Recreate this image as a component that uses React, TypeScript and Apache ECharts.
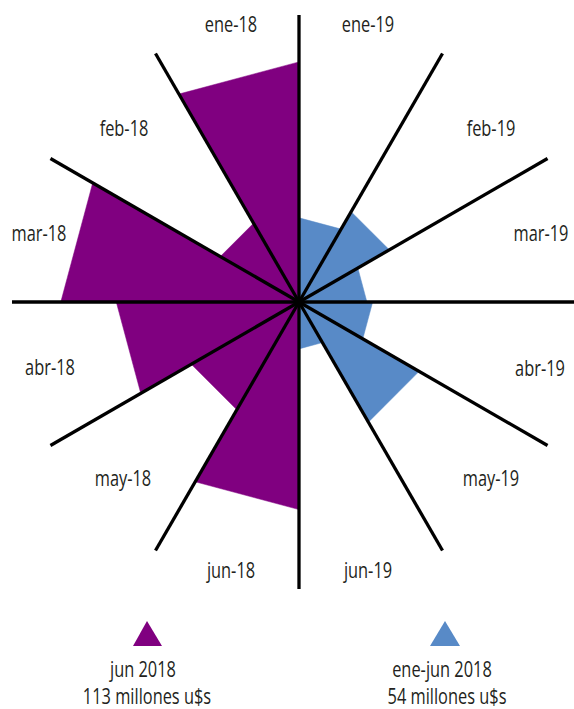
import React, { useEffect, useRef } from "react";
import * as echarts from "echarts";

// ---- data ----
const months18 = ["ene-18", "feb-18", "mar-18", "abr-18", "may-18", "jun-18"];
const months19 = ["ene-19", "feb-19", "mar-19", "abr-19", "may-19", "jun-19"];
const values18 = [25.1, 9.5, 24.9, 19.1, 13.0, 21.7];
const values19 = [8.8, 10.9, 7.1, 7.7, 14.5, 4.9];
const spokeAngles = [0, 30, 60, 90, 120, 150, 180, 210, 240, 270, 300, 330];
const legend18 = ["jun 2018", "113 millones u$s"];
const legend19 = ["ene-jun 2018", "54 millones u$s"];

// ---- layout (pixels) ----
const labelPos18: number[][] = [
  [231, 24], [124, 128], [39, 233], [50, 367], [123, 478], [231, 570],
];
const labelPos19: number[][] = [
  [368, 24], [491, 128], [541, 233], [540, 368], [491, 478], [368, 570],
];

const PURPLE = "#800080";
const BLUE = "#588AC7";
const TEXT = "#231F20";
const FONT = "21px 'Open Sans', 'Noto Sans', sans-serif";
const CONDENSE = 0.78;

function sectorSeries(values: number[], dir: number, color: string, name: string) {
  return {
    type: "custom",
    name,
    coordinateSystem: "polar",
    silent: true,
    z: 2,
    encode: { radius: 0, angle: 1 },
    data: values.map((v, i) => {
      const a1 = dir < 0 ? 360 - 30 * i : 30 * i;
      const a2 = dir < 0 ? 360 - 30 * (i + 1) : 30 * (i + 1);
      return [v, a1, a2];
    }),
    renderItem: (params: any, api: any) => {
      const v = api.value(0);
      const a1 = api.value(1);
      const a2 = api.value(2);
      const c = api.coord([0, a1]);
      const p1 = api.coord([v, a1]);
      const p2 = api.coord([v, a2]);
      return {
        type: "polygon",
        shape: { points: [c, p1, p2] },
        style: { fill: color, stroke: color, lineWidth: 0.5 },
      };
    },
  };
}

function textEl(text: string, x: number, y: number) {
  return {
    type: "text",
    x,
    y,
    scaleX: CONDENSE,
    silent: true,
    style: {
      text,
      font: FONT,
      lineHeight: 20,
      fill: TEXT,
      textAlign: "center",
      textVerticalAlign: "middle",
      align: "center",
      verticalAlign: "middle",
    },
  };
}

export default function App() {
  const ref = useRef<HTMLDivElement>(null);
  useEffect(() => {
    document.body.style.margin = "0";
    if (!ref.current) return;
    const chart = echarts.init(ref.current, null, { renderer: "svg" });

    const graphics: any[] = [];
    months18.forEach((m, i) => graphics.push(textEl(m, labelPos18[i][0], labelPos18[i][1])));
    months19.forEach((m, i) => graphics.push(textEl(m, labelPos19[i][0], labelPos19[i][1])));
    graphics.push({
      type: "polygon",
      silent: true,
      shape: { points: [[147, 621], [133, 646], [162, 646]] },
      style: { fill: PURPLE },
    });
    graphics.push({
      type: "polygon",
      silent: true,
      shape: { points: [[445, 621], [430, 646], [460, 646]] },
      style: { fill: BLUE },
    });
    graphics.push(textEl(legend18[0], 143, 669));
    graphics.push(textEl(legend18[1], 147, 696));
    graphics.push(textEl(legend19[0], 442, 669));
    graphics.push(textEl(legend19[1], 447, 696));

    chart.setOption({
      animation: false,
      backgroundColor: "#ffffff",
      polar: { center: [299, 302], radius: 287 },
      angleAxis: {
        type: "value",
        min: 0,
        max: 360,
        interval: 30,
        startAngle: 90,
        clockwise: true,
        show: false,
      },
      radiusAxis: { type: "value", min: 0, max: 30, show: false },
      series: [
        sectorSeries(values18, -1, PURPLE, "2018"),
        sectorSeries(values19, 1, BLUE, "2019"),
        {
          type: "custom",
          coordinateSystem: "polar",
          silent: true,
          z: 10,
          encode: { radius: 0, angle: 1 },
          data: spokeAngles.map((a) => [30, a]),
          renderItem: (params: any, api: any) => {
            const a = api.value(1);
            const c = api.coord([0, a]);
            const p = api.coord([api.value(0), a]);
            return {
              type: "line",
              shape: { x1: c[0], y1: c[1], x2: p[0], y2: p[1] },
              style: { stroke: "#000000", lineWidth: 3.3 },
            };
          },
        },
      ],
      graphic: graphics,
    });
    return () => chart.dispose();
  }, []);
  return <div ref={ref} style={{ width: 574, height: 709 }} />;
}
